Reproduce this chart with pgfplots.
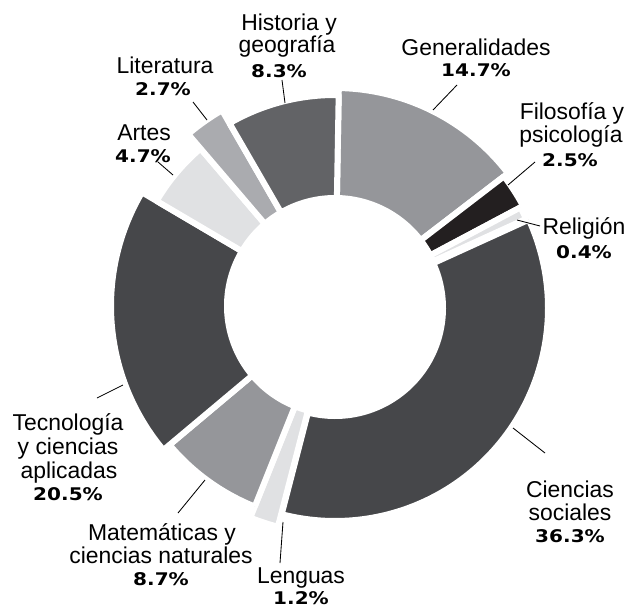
\documentclass[border=0pt]{standalone}
\usepackage{pgfplots}
\pgfplotsset{compat=1.18}
\usepackage{graphicx}
\usepackage{fontspec}
\setmainfont{Liberation Sans}
\newfontfamily\pctfont{DejaVu Sans}
\definecolor{cGen}{HTML}{95969A}
\definecolor{cFil}{HTML}{231F20}
\definecolor{cRel}{HTML}{E0E1E3}
\definecolor{cCS}{HTML}{46474A}
\definecolor{cLen}{HTML}{E0E1E3}
\definecolor{cMat}{HTML}{95969A}
\definecolor{cTec}{HTML}{46474A}
\definecolor{cArt}{HTML}{E0E1E3}
\definecolor{cLit}{HTML}{AAABAF}
\definecolor{cHis}{HTML}{626366}
% #1 colour, #2 start angle, #3 end angle, #4 outer radius (px), #5 centre x, #6 centre y
\newcommand{\seg}[6]{%
  \addplot[fill=#1, draw=white, line width=6bp, line join=round, domain=0:300, samples=301, variable=\t]
  ({(#5) + (\t<100.5 ? (#4) : (\t<200.5 ? 108 : 108+((#4)-108)*(\t-201)/99))
        * cos(\t<100.5 ? (#2)+((#3)-(#2))*\t/100 : (\t<200.5 ? (#3)-((#3)-(#2))*(\t-101)/99 : (#2)))},
   {(#6) - (\t<100.5 ? (#4) : (\t<200.5 ? 108 : 108+((#4)-108)*(\t-201)/99))
        * sin(\t<100.5 ? (#2)+((#3)-(#2))*\t/100 : (\t<200.5 ? (#3)-((#3)-(#2))*(\t-101)/99 : (#2)))});
}
\newcommand{\lab}[3]{\node[anchor=base, inner sep=0pt, font=\fontsize{23}{24}\selectfont] at (axis cs:#1,#2) {#3};}
\newcommand{\pct}[3]{\node[anchor=base, inner sep=0pt, font=\pctfont\bfseries\fontsize{17.5}{20}\selectfont] at (axis cs:#1,#2) {\scalebox{1.15}[1]{#3}};}
\newcommand{\lead}[4]{\addplot[black, line width=0.85bp] coordinates {(#1,#2) (#3,#4)};}
\begin{document}
\begin{tikzpicture}
\begin{axis}[
  width=629bp, height=608bp, scale only axis,
  xmin=0, xmax=629, ymin=0, ymax=608, y dir=reverse,
  hide axis, clip=false,
]
\addplot[draw=none] coordinates {(0,0) (629,608)};
% segments: Generalidades 14.7, Filosofia 2.5, Religion 0.4, Ciencias sociales 36.3,
% Lenguas 1.2, Matematicas 8.7, Tecnologia 20.5, Artes 4.7, Literatura 2.7, Historia 8.3
\seg{cGen}{89}{37.5}{218}{335}{306}
\seg{cFil}{37.5}{28}{213}{335}{306}
\seg{cRel}{28}{24.5}{210}{335}{306}
\seg{cCS}{24.5}{-104.5}{213}{335}{308}
\seg{cLen}{-104.5}{-111.8}{228}{335}{306}
\seg{cMat}{-111.8}{-140}{216}{335}{306}
\seg{cTec}{-140}{-210.5}{224}{335}{306}
\seg{cArt}{-210.5}{-229.5}{207}{335}{306}
\seg{cLit}{-229.5}{-240}{226}{335}{306}
\seg{cHis}{-240}{-271}{211}{335}{306}
% leader lines
\lead{282}{80}{285}{103}
\lead{193}{102}{207}{120}
\lead{158}{162}{173}{175}
\lead{457}{85}{433}{110}
\lead{535}{162}{508}{185}
\lead{517}{220}{540}{226}
\lead{513}{428}{545}{453}
\lead{283}{522}{280}{563}
\lead{205}{480}{178}{513}
\lead{97}{398}{123}{385}
% labels
\lab{289}{31}{Historia y}
\lab{287}{53}{geografía}
\pct{279}{78}{8.3\%}
\lab{165}{74}{Literatura}
\pct{163}{95}{2.7\%}
\lab{144}{140}{Artes}
\pct{143}{162}{4.7\%}
\lab{476}{56}{Generalidades}
\pct{476}{77}{14.7\%}
\lab{572}{119}{Filosofía y}
\lab{571}{142}{psicología}
\pct{570}{166}{2.5\%}
\lab{584}{234}{Religión}
\pct{584}{258}{0.4\%}
\lab{570}{497}{Ciencias}
\lab{570}{520}{sociales}
\pct{570}{542}{36.3\%}
\lab{301}{583}{Lenguas}
\pct{301}{604}{1.2\%}
\lab{162}{540}{Matemáticas y}
\lab{161}{563}{ciencias naturales}
\pct{161}{585}{8.7\%}
\lab{68}{430}{Tecnología}
\lab{68}{454}{y ciencias}
\lab{69}{478}{aplicadas}
\pct{68}{500}{20.5\%}
\end{axis}
\end{tikzpicture}
\end{document}
